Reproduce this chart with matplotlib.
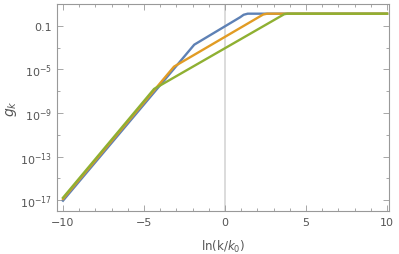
import matplotlib
matplotlib.use("Agg")
import matplotlib.pyplot as plt
import numpy as np
from matplotlib.ticker import FixedLocator, FixedFormatter

# data: breakpoints (x = ln(k/k0), y = log10 g_k)
blue_x = [-10, -1.90, 0.93, 1.15, 1.40, 10]
blue_y = [-17.06, -2.72, -0.20, 0.03, 0.13, 0.13]
orange_x = [-10, -3.15, 2.35, 2.6, 10]
orange_y = [-16.90, -4.74, 0.05, 0.13, 0.13]
green_x = [-10, -4.38, 3.65, 3.85, 10]
green_y = [-16.79, -6.79, 0.08, 0.13, 0.13]

colors = ["#5E81B5", "#E19C24", "#8FB032"]

xticks_major = [-10, -5, 0, 5, 10]
yticks_major_exp = [-1, -5, -9, -13, -17]
ytick_labels = ["0.1", r"$10^{-5}$", r"$10^{-9}$", r"$10^{-13}$", r"$10^{-17}$"]

fig = plt.figure(figsize=(3.99, 2.55), dpi=100)
ax = fig.add_axes([57/399, 1-212/255, (389-57)/399, (212-5)/255])

ax.axvline(0, color="#d9d9d9", lw=1.3, zorder=1)
for xs, ys, c in zip([blue_x, orange_x, green_x], [blue_y, orange_y, green_y], colors):
    ax.plot(xs, 10.0**np.array(ys), color=c, lw=1.7, zorder=3)

ax.set_yscale("log")
ax.set_xlim(-10.37, 10.12)
ax.set_ylim(10**-18.01, 10**1.02)

gray = "#999999"
tc = "#555555"
for s in ax.spines.values():
    s.set_color(gray)
    s.set_linewidth(0.8)

ax.xaxis.set_major_locator(FixedLocator(xticks_major))
ax.xaxis.set_minor_locator(FixedLocator([v for v in range(-10, 11) if v % 5 != 0]))
ax.yaxis.set_major_locator(FixedLocator([10.0**e for e in yticks_major_exp]))
ax.yaxis.set_major_formatter(FixedFormatter(ytick_labels))
ax.yaxis.set_minor_locator(FixedLocator([10.0**e for e in [1, -3, -7, -11, -15]]))
ax.yaxis.set_minor_formatter(FixedFormatter([""] * 5))
ax.set_xticklabels(["\u221210", "\u22125", "0", "5", "10"])

ax.tick_params(which="both", direction="in", top=True, right=True, color=gray,
               labelcolor=tc, labelsize=8, width=0.6)
ax.tick_params(which="major", length=4)
ax.tick_params(which="minor", length=2.2)
ax.tick_params(axis="x", pad=4)

ax.set_xlabel(r"ln(k/$k_0$)", color=tc, fontsize=8.5, labelpad=8)
ax.set_ylabel(r"$g_k$", color=tc, fontsize=10, labelpad=1)

fig.savefig("out.png", dpi=100)
